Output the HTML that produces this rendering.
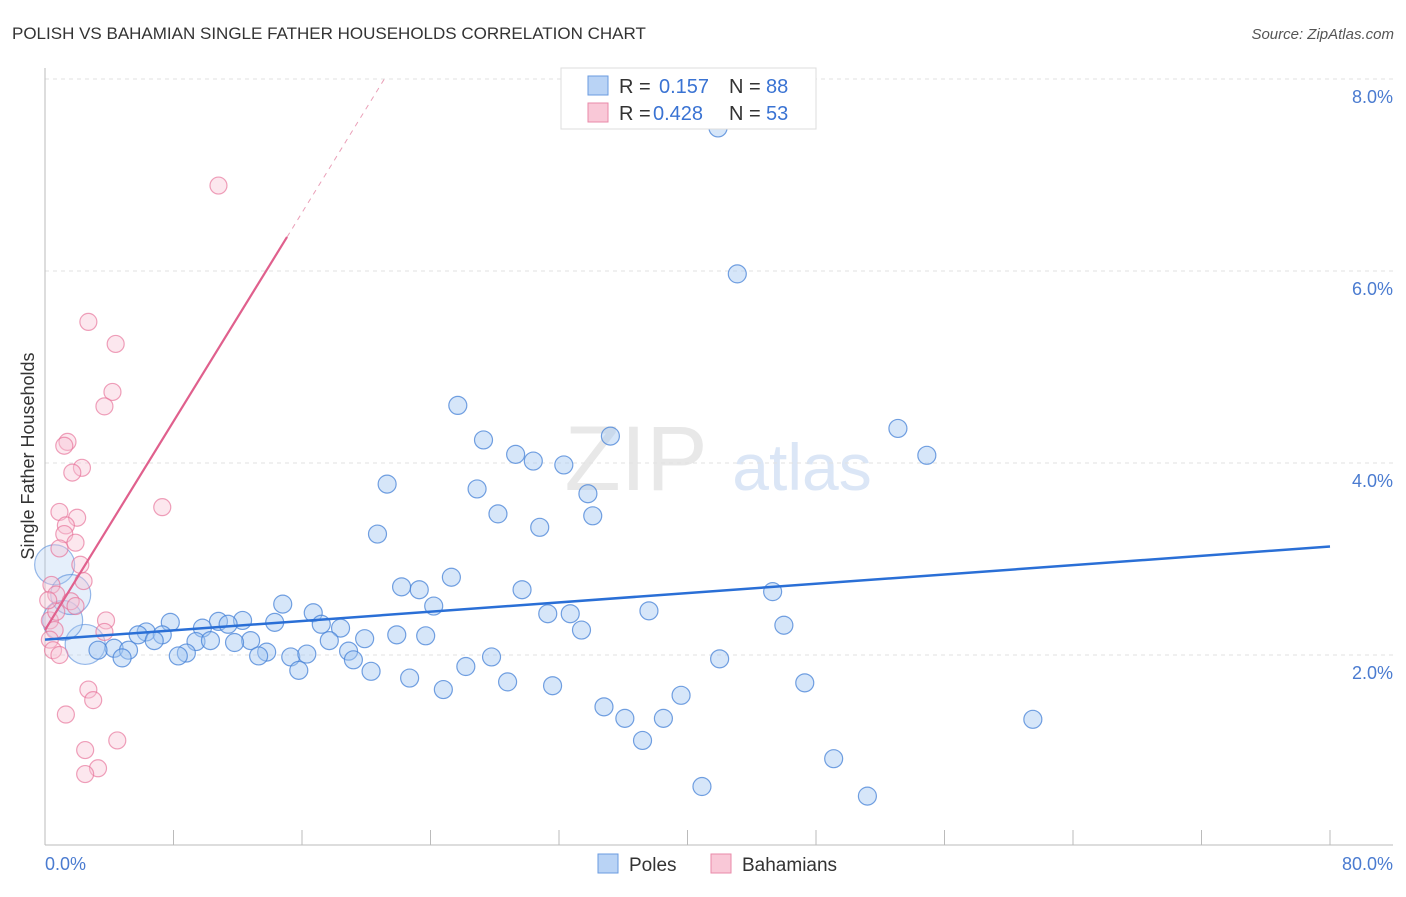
<!DOCTYPE html>
<html><head><meta charset="utf-8">
<style>
body{margin:0;background:#fff;font-family:"Liberation Sans",sans-serif;}
svg text{font-family:"Liberation Sans",sans-serif;}
</style></head>
<body>
<svg width="1406" height="892" viewBox="0 0 1406 892">
<text x="12" y="39" font-size="17" fill="#333">POLISH VS BAHAMIAN SINGLE FATHER HOUSEHOLDS CORRELATION CHART</text>
<text x="1394" y="39" font-size="15" fill="#555" font-style="italic" text-anchor="end">Source: ZipAtlas.com</text>
<text transform="translate(34,456) rotate(-90)" font-size="18" fill="#333" text-anchor="middle">Single Father Households</text>
<text x="636" y="490" font-size="92" fill="#e8e8e8" font-family="Liberation Serif" text-anchor="middle">ZIP</text>
<text x="802" y="490" font-size="66" fill="#dbe6f6" text-anchor="middle">atlas</text>
<g id="grid"></g>
<g id="axes"></g>
<g id="pts"></g>
<g id="lines"></g>
<g>
<rect x="561" y="68" width="255" height="61" fill="#fff" stroke="#ddd"/>
<rect x="588" y="76" width="20" height="19" fill="#b9d3f5" stroke="#6a9be0"/>
<text x="619" y="93" font-size="20" fill="#333">R =</text><text x="659" y="93" font-size="20" fill="#3a73d3">0.157</text>
<text x="729" y="93" font-size="20" fill="#333">N =</text><text x="766" y="93" font-size="20" fill="#3a73d3">88</text>
<rect x="588" y="103" width="20" height="19" fill="#f9c8d7" stroke="#e98aa8"/>
<text x="619" y="120" font-size="20" fill="#333">R =</text><text x="653" y="120" font-size="20" fill="#3a73d3">0.428</text>
<text x="729" y="120" font-size="20" fill="#333">N =</text><text x="766" y="120" font-size="20" fill="#3a73d3">53</text>
</g>
<g>
<rect x="598" y="854" width="20" height="19" fill="#b9d3f5" stroke="#6a9be0"/>
<text x="629" y="871" font-size="19" fill="#333">Poles</text>
<rect x="711" y="854" width="20" height="19" fill="#f9c8d7" stroke="#e98aa8"/>
<text x="742" y="871" font-size="19" fill="#333">Bahamians</text>
</g>
</svg>
<script>
const yTicks=[2,4,6,8];
const yTickLabels=["2.0%","4.0%","6.0%","8.0%"];
const xTickLabels=["0.0%","80.0%"];
const polesX=[41.9,43.1,25.7,27.3,29.3,30.4,32.3,35.2,53.1,54.9,21.3,26.9,33.8,28.2,34.1,30.8,20.7,25.3,22.2,23.3,29.7,45.3,24.2,14.8,31.3,32.7,37.6,16.7,46.0,12.3,10.8,14.3,17.2,7.8,11.4,18.4,33.4,9.8,6.3,5.8,7.3,21.9,23.7,19.9,12.8,9.4,10.3,11.8,6.8,17.7,4.3,5.2,3.3,8.8,8.3,13.8,13.3,15.3,16.3,18.9,19.2,4.8,27.8,42.0,26.2,15.8,20.3,22.7,28.8,31.6,47.3,24.8,39.6,34.8,36.1,38.5,61.5,37.2,49.1,40.9,51.2];
const polesY=[7.49,5.97,4.60,4.24,4.09,4.02,3.98,4.28,4.36,4.08,3.78,3.73,3.68,3.47,3.45,3.33,3.26,2.81,2.71,2.68,2.68,2.66,2.51,2.53,2.43,2.43,2.46,2.44,2.31,2.36,2.35,2.34,2.32,2.34,2.32,2.28,2.26,2.28,2.24,2.21,2.21,2.21,2.20,2.17,2.15,2.14,2.15,2.13,2.15,2.15,2.07,2.05,2.05,2.02,1.99,2.03,1.99,1.98,2.01,2.04,1.95,1.97,1.98,1.96,1.88,1.84,1.83,1.76,1.72,1.68,1.71,1.64,1.58,1.46,1.34,1.34,1.33,1.11,0.92,0.63,0.53];
const polesBigX=[2.5,1.1,0.6,1.6];
const polesBigY=[2.11,2.36,2.94,2.63];
const bahX=[10.8,2.7,4.4,4.2,3.7,1.4,1.2,2.3,1.7,7.3,0.9,2.0,1.3,1.2,1.9,0.9,2.2,2.4,0.4,0.7,1.6,1.9,3.8,3.7,0.3,0.6,0.3,0.5,0.9,2.7,3.0,1.3,4.5,2.5,3.3,2.5,0.7,0.2];
const bahY=[6.89,5.47,5.24,4.74,4.59,4.22,4.18,3.95,3.90,3.54,3.49,3.43,3.35,3.26,3.17,3.11,2.94,2.77,2.73,2.63,2.56,2.51,2.36,2.24,2.36,2.26,2.16,2.05,2.00,1.64,1.53,1.38,1.11,1.01,0.82,0.76,2.45,2.57];
const polesTrend=[2.16,3.13];
const bahTrend=[2.26,0.2717];
const sx=v=>45+v*1285/80, sy=v=>847-v*96;
const NS="http://www.w3.org/2000/svg";
function mk(t,a,p){const e=document.createElementNS(NS,t);for(const k in a)e.setAttribute(k,a[k]);p.appendChild(e);return e;}
const grid=document.getElementById('grid'),axes=document.getElementById('axes'),pts=document.getElementById('pts'),lines=document.getElementById('lines');
yTicks.forEach((v,i)=>{
 const l=mk('line',{x1:45,x2:1393,y1:sy(v),y2:sy(v),stroke:'#e2e2e2','stroke-dasharray':'4,4'},grid);
 
 
 const t=mk('text',{x:1393,y:sy(v)+24,'font-size':18,fill:'#4a7bd0','text-anchor':'end'},axes);
 t.textContent=yTickLabels[i];
 
 
});
const ax=mk('line',{x1:45,x2:45,y1:68,y2:845,stroke:'#bbb'},axes);


const bx=mk('line',{x1:45,x2:1393,y1:845,y2:845,stroke:'#bbb'},axes);


for(let i=0;i<=10;i++){
 const tk=mk('line',{x1:sx(i*8),x2:sx(i*8),y1:830,y2:845,stroke:'#bbb'},axes);
 
 
}
[[0,'start',45],[80,'end',1393]].forEach((d,i)=>{
 const t=mk('text',{x:d[2],y:870,'font-size':18,fill:'#4a7bd0','text-anchor':d[1]},axes);
 t.textContent=xTickLabels[i];
 
 
});
polesBigX.forEach((v,i)=>{
 const c=mk('circle',{cx:sx(v),cy:sy(polesBigY[i]),r:20,fill:'rgba(170,202,242,0.3)',stroke:'rgba(70,130,215,0.55)','stroke-width':1.2},pts);
 
 
});
polesX.forEach((v,i)=>{
 const c=mk('circle',{cx:sx(v),cy:sy(polesY[i]),r:9,fill:'rgba(165,199,241,0.45)',stroke:'rgba(70,130,215,0.75)','stroke-width':1.2},pts);
 
 
});
bahX.forEach((v,i)=>{
 const c=mk('circle',{cx:sx(v),cy:sy(bahY[i]),r:8.5,fill:'rgba(248,195,213,0.4)',stroke:'rgba(230,110,150,0.65)','stroke-width':1.2},pts);
 
 
});
const pl=mk('line',{x1:sx(0),y1:sy(polesTrend[0]),x2:sx(80),y2:sy(polesTrend[1]),stroke:'#2a6fd6','stroke-width':2.5},lines);


const xe=15.07, xd=(8-bahTrend[0])/bahTrend[1];
const bl=mk('line',{x1:sx(0),y1:sy(bahTrend[0]),x2:sx(xe),y2:sy(bahTrend[0]+bahTrend[1]*xe),stroke:'#e0608d','stroke-width':2.2},lines);


const bd=mk('line',{x1:sx(xe),y1:sy(bahTrend[0]+bahTrend[1]*xe),x2:sx(xd),y2:sy(8),stroke:'#eaa0b8','stroke-width':1,'stroke-dasharray':'5,5'},lines);


</script>
</body></html>
